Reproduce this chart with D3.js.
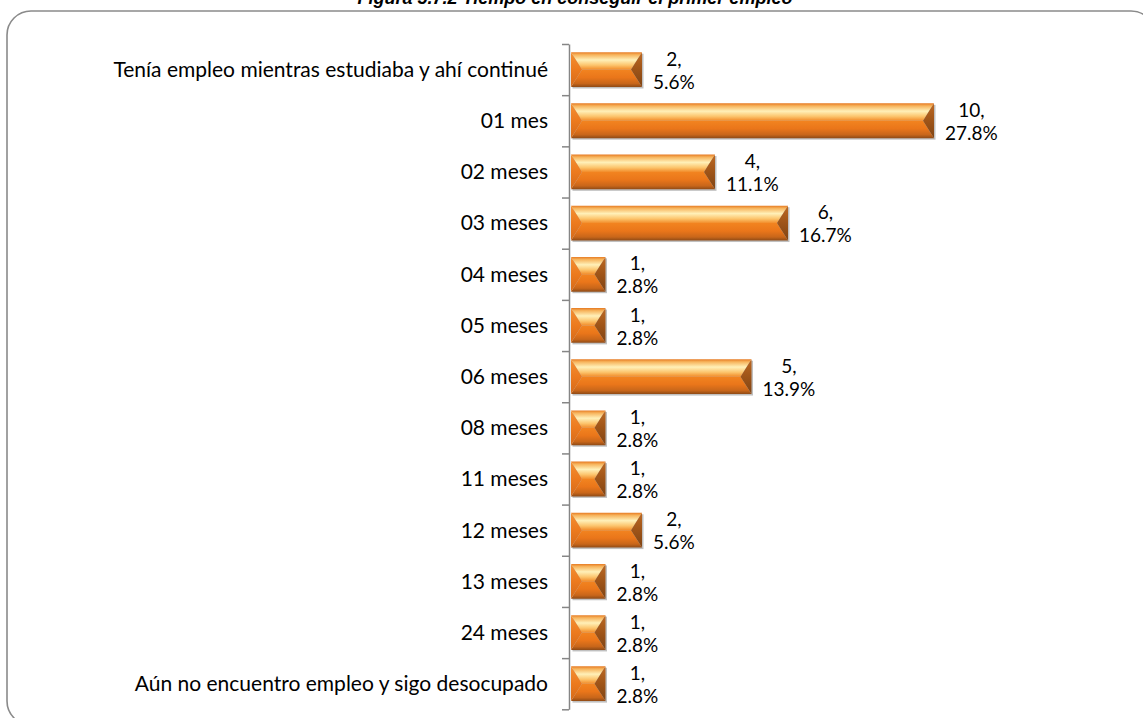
<!DOCTYPE html>
<html>
<head>
<meta charset="utf-8">
<script src="https://cdn.jsdelivr.net/npm/d3@7/dist/d3.min.js"></script>
<style>
  html, body { margin: 0; padding: 0; background: #ffffff; }
  svg { display: block; }
</style>
</head>
<body>
<svg id="chart" width="1143" height="718"></svg>
<script>
const titleText = "Figura 5.7.2 Tiempo en conseguir el primer empleo";
const categories = [
  "Tenía empleo mientras estudiaba y ahí continué",
  "01 mes", "02 meses", "03 meses", "04 meses", "05 meses", "06 meses",
  "08 meses", "11 meses", "12 meses", "13 meses", "24 meses",
  "Aún no encuentro empleo y sigo desocupado"
];
const counts = [2, 10, 4, 6, 1, 1, 5, 1, 1, 2, 1, 1, 1];
const percents = ["5.6%", "27.8%", "11.1%", "16.7%", "2.8%", "2.8%", "13.9%", "2.8%", "2.8%", "5.6%", "2.8%", "2.8%", "2.8%"];
const xDomain = [0, 10];

(function () {
const svg = d3.select("#chart");
const font = "Lato, 'Open Sans', sans-serif";

const defs = svg.append("defs");
function grad(id, stops) {
  const g = defs.append("linearGradient").attr("id", id).attr("x1", 0).attr("y1", 0).attr("x2", 0).attr("y2", 1);
  stops.forEach(s => g.append("stop").attr("offset", s[0]).attr("stop-color", s[1]));
}
grad("gTop", [[0, "#e67a22"], [0.15, "#f7b45c"], [0.45, "#fff0b8"], [0.75, "#fcc46c"], [1, "#f28c2a"]]);
grad("gBot", [[0, "#f28420"], [0.45, "#ea761a"], [0.8, "#c8661a"], [1, "#8e4a16"]]);
grad("gLeft", [[0, "#f39034"], [0.5, "#ec7a1e"], [1, "#d46a1a"]]);
grad("gRight", [[0, "#bc6822"], [0.5, "#9e5418"], [1, "#804414"]]);

// border
svg.append("rect")
  .attr("x", 7).attr("y", 11)
  .attr("width", 1148).attr("height", 714)
  .attr("rx", 24).attr("ry", 24)
  .attr("fill", "none").attr("stroke", "#8a8a8a").attr("stroke-width", 1.6);

// title (partly cut off at top, as in the reference)
svg.append("text")
  .attr("x", 575).attr("y", 4)
  .attr("text-anchor", "middle")
  .attr("font-family", "'Liberation Sans', Arial, sans-serif")
  .attr("font-size", 18).attr("font-weight", "bold").attr("font-style", "italic")
  .attr("fill", "#000")
  .text(titleText);

const yTop = 44, yBottom = 709.3;
const y = d3.scaleBand().domain(categories).range([yTop, yBottom]).paddingInner(0.32).paddingOuter(0.16);
const x = d3.scaleLinear().domain(xDomain).range([569, 934]);
const yEdges = d3.scaleLinear().domain([0, categories.length]).range([yTop, yBottom]);

const axis = svg.append("g").attr("transform", "translate(569,0)")
  .call(d3.axisLeft(yEdges).tickValues(d3.range(categories.length + 1)).tickFormat("").tickSize(7).tickSizeOuter(0));
axis.select(".domain").attr("stroke", "#868686").attr("stroke-width", 1.5);
axis.selectAll(".tick line").attr("stroke", "#868686").attr("stroke-width", 1.5);

svg.append("g").selectAll("text").data(categories).join("text")
  .attr("x", 548)
  .attr("y", d => y(d) + y.bandwidth() / 2)
  .attr("dy", "0.35em")
  .attr("text-anchor", "end")
  .attr("font-family", font).attr("font-size", 21).attr("fill", "#000")
  .text(d => d);

const bars = svg.append("g").selectAll("g").data(counts).join("g");
bars.each(function (v, i) {
  const g = d3.select(this);
  const x0 = x(0) + 2, x1 = x(v);
  const y0 = y(categories[i]), h = y.bandwidth(), y1 = y0 + h, ym = y0 + h / 2;
  const w = x1 - x0;
  const b = Math.min(11, w / 2);
  g.append("rect").attr("x", x0 + 1.5).attr("y", y0 + 1.5).attr("width", w).attr("height", h)
    .attr("fill", "#8c8c8c").attr("opacity", 0.55);
  const poly = (pts, fill) => g.append("polygon").attr("points", pts.map(p => p.join(",")).join(" ")).attr("fill", fill);
  poly([[x0, y0], [x1, y0], [x1 - b, ym], [x0 + b, ym]], "url(#gTop)");
  poly([[x0 + b, ym], [x1 - b, ym], [x1, y1], [x0, y1]], "url(#gBot)");
  poly([[x0, y0], [x0 + b, ym], [x0, y1]], "url(#gLeft)");
  poly([[x1, y0], [x1 - b, ym], [x1, y1]], "url(#gRight)");
});

const labels = svg.append("g").selectAll("text").data(counts).join("text")
  .attr("font-family", font).attr("font-size", 19).attr("fill", "#000")
  .attr("text-anchor", "middle");
labels.each(function (v, i) {
  const t = d3.select(this);
  const cy = y(categories[i]) + y.bandwidth() / 2 + 1;
  t.append("tspan").attr("class", "l1").attr("y", cy - 11.5).attr("dy", "0.35em").text(v + ",");
  t.append("tspan").attr("class", "l2").attr("y", cy + 11.5).attr("dy", "0.35em").text(percents[i]);
  const wMax = Math.max(t.select(".l1").node().getComputedTextLength(), t.select(".l2").node().getComputedTextLength());
  const cx = x(v) + 11 + wMax / 2;
  t.selectAll("tspan").attr("x", cx);
});
})();
</script>
</body>
</html>
